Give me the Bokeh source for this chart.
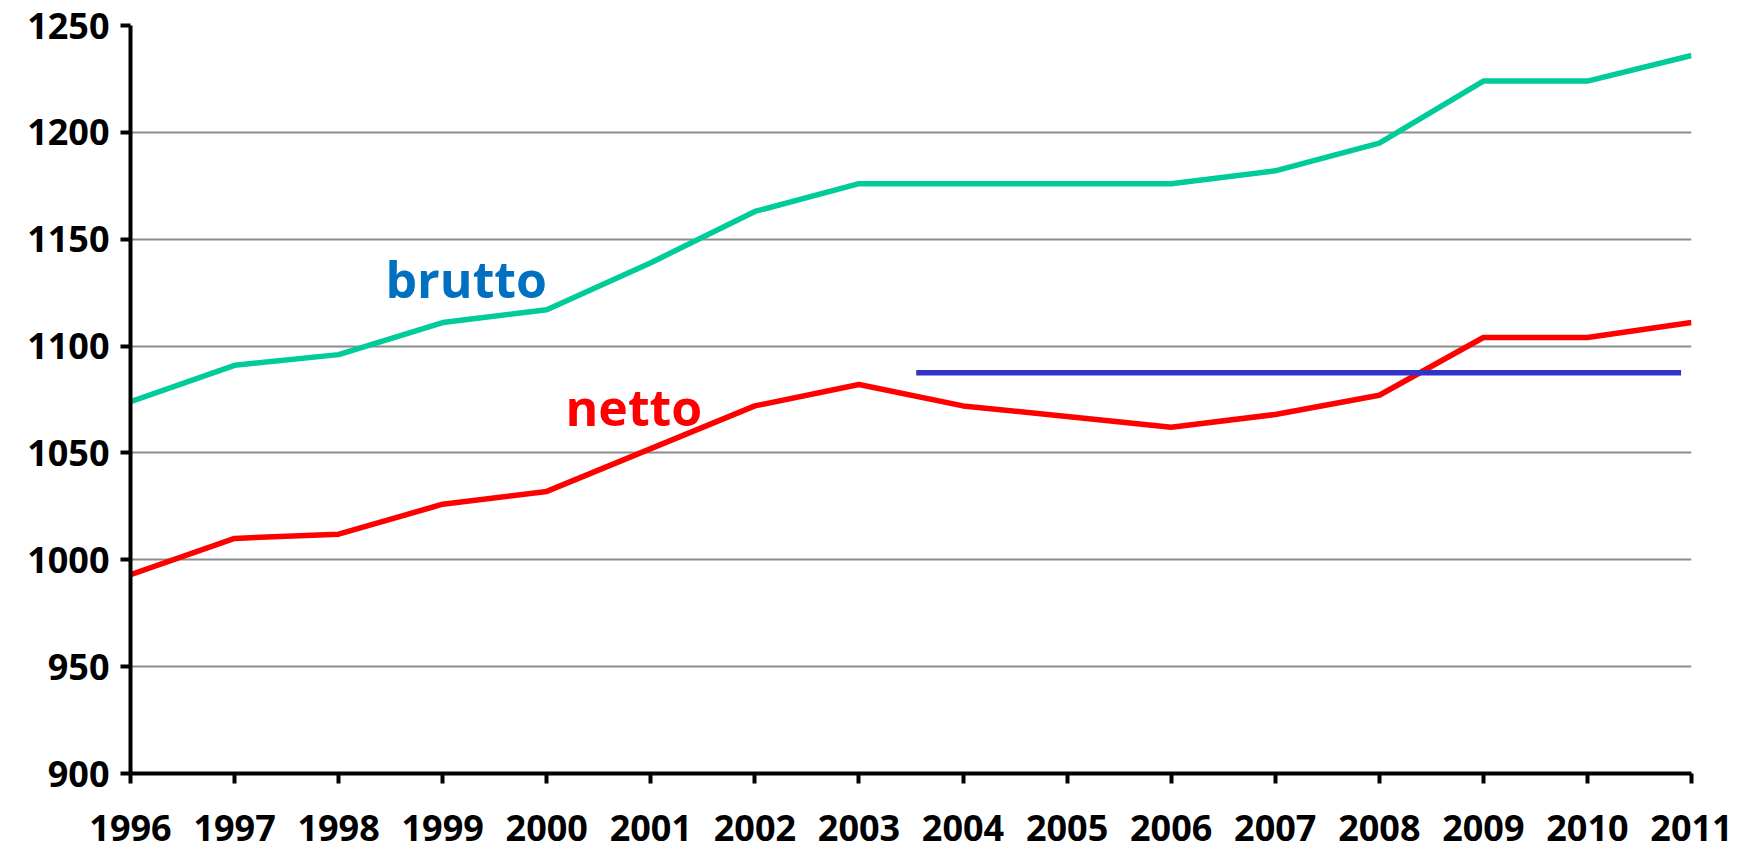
from bokeh.plotting import figure
from bokeh.models import Range1d, FixedTicker, Label
from bokeh.embed import file_html
from bokeh.resources import INLINE

years = list(range(1996, 2012))
brutto = [1074, 1091, 1096, 1111, 1117, 1139, 1163, 1176, 1176, 1176, 1176, 1182, 1195, 1224, 1224, 1236]
netto = [993, 1010, 1012, 1026, 1032, 1052, 1072, 1082, 1072, 1067, 1062, 1068, 1077, 1104, 1104, 1111]
ref_x = [2003.55, 2010.9]
ref_y = [1087.5, 1087.5]
y_ticks = [900, 950, 1000, 1050, 1100, 1150, 1200, 1250]

p = figure(width=1740, height=848, output_backend="svg", toolbar_location=None,
           x_range=Range1d(1996, 2011), y_range=Range1d(900, 1250),
           min_border_left=130, min_border_right=49, min_border_top=25, min_border_bottom=75)
p.outline_line_color = None
p.background_fill_color = "white"
p.border_fill_color = "white"

p.xgrid.grid_line_color = None
p.ygrid.grid_line_color = "#8c8c8c"
p.ygrid.grid_line_width = 2

for ax in (p.xaxis[0], p.yaxis[0]):
    ax.axis_line_color = "black"
    ax.axis_line_width = 4
    ax.major_tick_line_color = "black"
    ax.major_tick_line_width = 4
    ax.major_tick_out = 10
    ax.major_tick_in = 0
    ax.minor_tick_line_color = None
    ax.major_label_text_font = "Open Sans"
    ax.major_label_text_font_style = "bold"
    ax.major_label_text_font_size = "36px"
    ax.major_label_text_color = "black"

p.xaxis[0].ticker = FixedTicker(ticks=years)
p.yaxis[0].ticker = FixedTicker(ticks=y_ticks)
p.xaxis[0].major_label_standoff = 31
p.yaxis[0].major_label_standoff = 11

p.line(years, brutto, line_color="#00CC99", line_width=5.5)
p.line(years, netto, line_color="#FF0000", line_width=5.5)
p.line(ref_x, ref_y, line_color="#3333CC", line_width=5.5)

p.add_layout(Label(x=1998.45, y=1131.5, text="brutto", text_color="#0070C0",
                   text_font="Open Sans", text_font_style="bold", text_font_size="50px",
                   text_baseline="alphabetic"))
p.add_layout(Label(x=2000.18, y=1071.5, text="netto", text_color="#FF0000",
                   text_font="Open Sans", text_font_style="bold", text_font_size="50px",
                   text_baseline="alphabetic"))

open("out.html", "w").write(file_html(p, INLINE))
